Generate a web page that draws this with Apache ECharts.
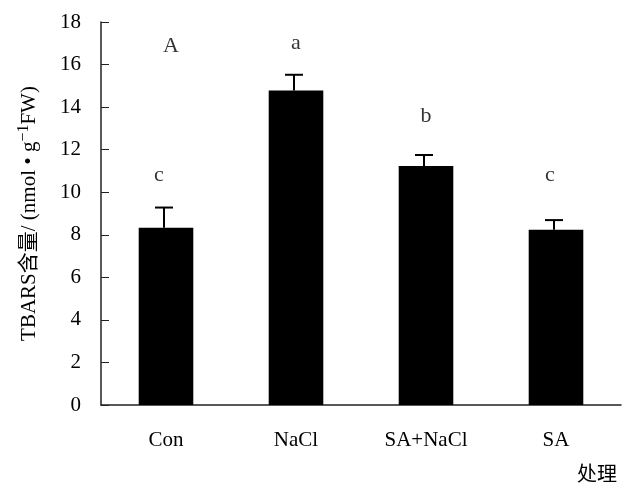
<!DOCTYPE html>
<html style="height: 100%">
<head>
    <meta charset="utf-8">
    <title>TBARS</title>
    <script src="https://cdn.jsdelivr.net/npm/echarts@6/dist/echarts.min.js"></script>
</head>
<body style="height: 100%; margin: 0; background: #fff">
    <div id="main" style="width: 622px; height: 483px"></div>
    <script type="text/javascript">
        // data
        var categories = ['Con', 'NaCl', 'SA+NaCl', 'SA'];
        var means = [8.33, 14.78, 11.23, 8.24];
        var errors = [0.95, 0.74, 0.52, 0.45];
        var letters = ['c', 'a', 'b', 'c'];
        var letterPos = [10.8, 17.0, 13.55, 10.8];
        var yTicks = [0, 18, 2];  // min, max, interval

        var serif = '"Liberation Serif", "Noto Sans CJK SC", serif';

        var myChart = echarts.init(document.getElementById('main'));

        var option = {
            animation: false,
            grid: {
                left: 101,
                right: 1,
                top: 22,
                bottom: 77
            },
            xAxis: {
                type: 'category',
                data: categories,
                name: '处理',
                nameLocation: 'end',
                nameGap: 0,
                nameTextStyle: {
                    fontFamily: '"Noto Sans CJK SC"',
                    fontSize: 20,
                    color: '#000',
                    align: 'right',
                    verticalAlign: 'top',
                    padding: [58, 4, 0, 0]
                },
                axisLine: { lineStyle: { color: '#222', width: 1.5 } },
                axisTick: { inside: true, length: 8, lineStyle: { color: '#222' } },
                axisLabel: {
                    margin: 25,
                    fontFamily: serif,
                    fontSize: 21,
                    color: '#000'
                }
            },
            yAxis: {
                type: 'value',
                min: yTicks[0],
                max: yTicks[1],
                interval: yTicks[2],
                name: '{t|TBARS含量/ (nmol • g}{s|−1}{t|FW)}',
                nameLocation: 'middle',
                nameGap: 59,
                nameTextStyle: {
                    rich: {
                        t: { fontFamily: serif, fontSize: 21, color: '#000' },
                        s: { fontFamily: serif, fontSize: 16, color: '#000', verticalAlign: 'top', padding: [0, 0, 10, 0] }
                    }
                },
                splitLine: { show: false },
                axisLine: { show: true, lineStyle: { color: '#222', width: 1.5 } },
                axisTick: { show: true, inside: true, length: 8, lineStyle: { color: '#222' } },
                axisLabel: {
                    margin: 20,
                    fontFamily: serif,
                    fontSize: 21,
                    color: '#000'
                }
            },
            series: [
                {
                    type: 'bar',
                    data: means,
                    barWidth: '42%',
                    itemStyle: { color: '#000' }
                },
                {
                    type: 'custom',
                    data: means.map(function (m, i) { return [i, m, m + errors[i]]; }),
                    renderItem: function (params, api) {
                        var lo = api.coord([api.value(0), api.value(1)]);
                        var hi = api.coord([api.value(0), api.value(2)]);
                        var x = lo[0] - 2;
                        var half = 9;
                        var style = { stroke: '#000', lineWidth: 2 };
                        return {
                            type: 'group',
                            children: [
                                { type: 'line', shape: { x1: x, y1: lo[1], x2: x, y2: hi[1] }, style: style },
                                { type: 'line', shape: { x1: x - half, y1: hi[1], x2: x + half, y2: hi[1] }, style: style }
                            ]
                        };
                    },
                    z: 3
                },
                {
                    type: 'scatter',
                    symbolSize: 0,
                    data: letters.map(function (l, i) {
                        return { value: [i, letterPos[i]], label: { formatter: l, offset: [i === 0 ? -7 : (i === 3 ? -6 : 0), 0] } };
                    }).concat([{ value: [0, 16.85], label: { formatter: 'A', offset: [5, 0] } }]),
                    label: {
                        show: true,
                        position: 'inside',
                        fontFamily: serif,
                        fontSize: 22,
                        color: '#000'
                    }
                }
            ]
        };

        myChart.setOption(option);
    </script>
</body>
</html>
